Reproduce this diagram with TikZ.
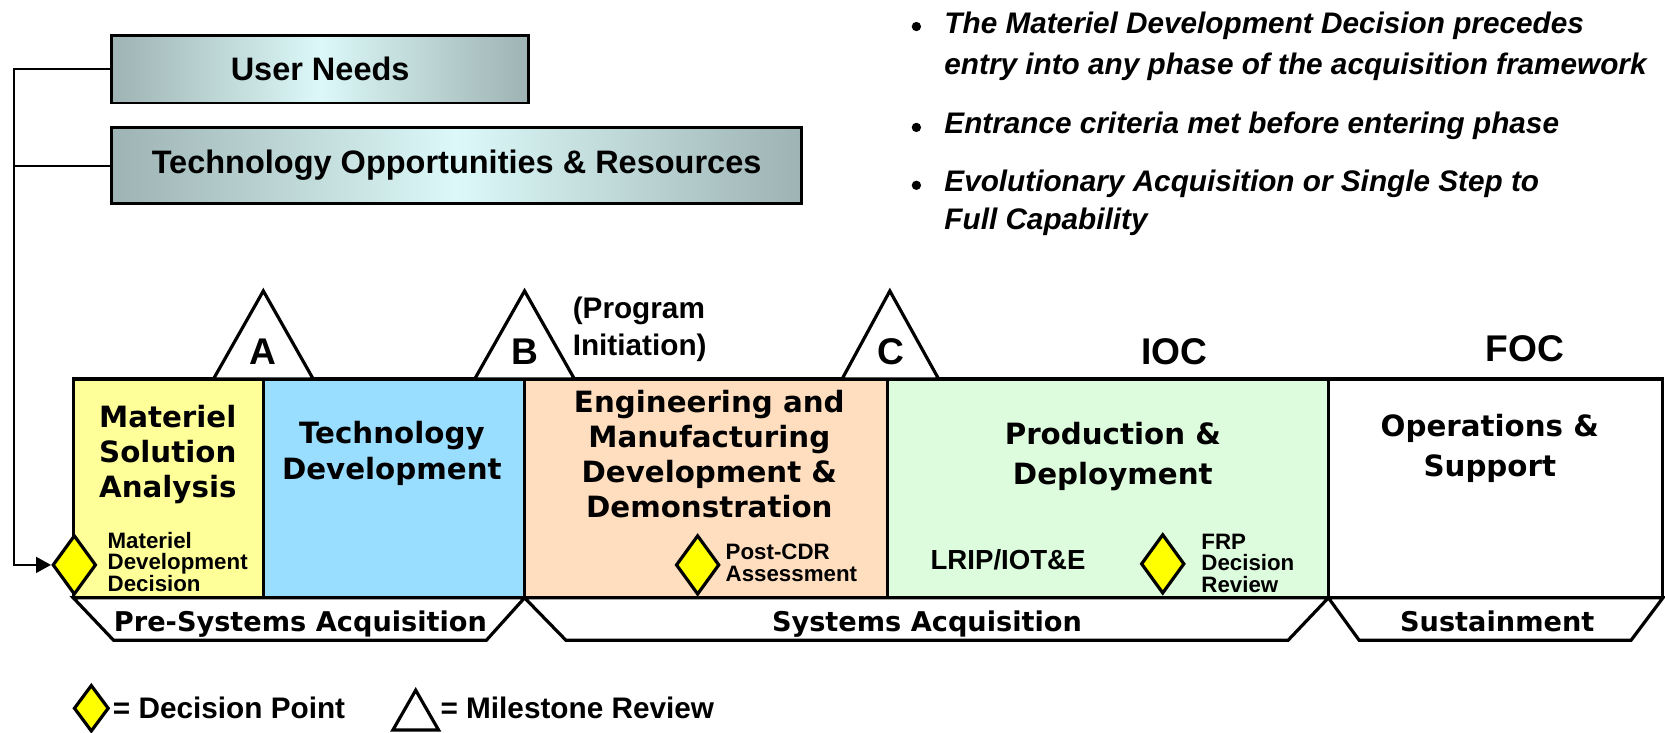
\documentclass[tikz,border=0pt]{standalone}
\usepackage{fontspec}
\setmainfont{Liberation Sans}
\newfontfamily\vfont{DejaVu Sans}
\usetikzlibrary{shapes.geometric,arrows.meta}
\definecolor{msacol}{HTML}{FFFF99}
\definecolor{tdcol}{HTML}{99DDFF}
\definecolor{emdcol}{HTML}{FFDEC0}
\definecolor{pdcol}{HTML}{DDFCDD}
\definecolor{edgecol}{HTML}{9EB3B3}
\definecolor{midcol}{HTML}{DCF8F8}
\definecolor{dyellow}{HTML}{FFFF00}
\begin{document}
\begin{tikzpicture}[x=0.5pt,y=-0.5pt,
 topbox/.style={draw=black, line width=1.4pt, left color=edgecol, right color=edgecol, middle color=midcol, inner sep=0, font=\bfseries\fontsize{15.3}{18}\selectfont},
 phase/.style={draw=black, line width=1.5pt},
 phasetext/.style={inner sep=0, align=center, font=\vfont\bfseries\fontsize{13.8}{16.5}\selectfont},
 phasetextb/.style={inner sep=0, align=center, font=\vfont\bfseries\fontsize{13.8}{19}\selectfont},
 sublabel/.style={inner sep=0, align=left, anchor=west, font=\bfseries\fontsize{10.5}{10.2}\selectfont},
 decision/.style={diamond, draw=black, line width=1.5pt, fill=dyellow, inner sep=0, minimum width=20.5pt, minimum height=28pt},
 milestone/.style={draw=black, line width=1.5pt, fill=white, line join=miter},
 msletter/.style={inner sep=0, font=\bfseries\fontsize{17.5}{20}\selectfont},
 band/.style={draw=black, line width=1.5pt, fill=white, line join=miter},
 bandtext/.style={inner sep=0, anchor=base, font=\vfont\bfseries\fontsize{12.8}{15}\selectfont},
 bullettext/.style={inner sep=0, anchor=base west, font=\bfseries\itshape\fontsize{14}{17}\selectfont},
 bulletdot/.style={circle, fill=black, inner sep=0, minimum size=4.4pt},
 legendtext/.style={inner sep=0, anchor=base west, font=\bfseries\fontsize{14}{17}\selectfont},
 rail/.style={line width=0.8pt}
]
\useasboundingbox (0,0) rectangle (1568,690);

% top boxes
\node[topbox, minimum width=196.5pt, minimum height=32pt] (un) at (301.5,65) {User Needs};
\node[topbox, minimum width=325pt, minimum height=36pt] (tor) at (430,156) {Technology Opportunities \& Resources};

% phase boxes
\draw[phase, fill=msacol] (69,357) rectangle (248,563);
\draw[phase, fill=tdcol] (248,357) rectangle (494,563);
\draw[phase, fill=emdcol] (494,357) rectangle (836,563);
\draw[phase, fill=pdcol] (836,357) rectangle (1251,563);
\draw[phase, fill=white] (1251,357) rectangle (1566,563);

% bands
\draw[band] (69,563) -- (107,603) -- (458,603) -- (494,563) -- cycle;
\draw[band] (494,563) -- (533,603) -- (1213,603) -- (1251,563) -- cycle;
\draw[band] (1251,563) -- (1280,603) -- (1536,603) -- (1566,563) -- cycle;
\node[bandtext] (pre) at (283,595) {Pre-Systems Acquisition};
\node[bandtext] (sys) at (873,595) {Systems Acquisition};
\node[bandtext] (sus) at (1410,595) {Sustainment};

% milestones
\draw[milestone] (201,357) -- (248,274) -- (295,357) -- cycle;
\draw[milestone] (447,357) -- (494,274) -- (541,357) -- cycle;
\draw[milestone] (793,357) -- (838,274) -- (884,357) -- cycle;
\node[msletter] (mA) at (248,331) {A};
\node[msletter] (mB) at (494,331) {B};
\node[msletter] (mC) at (839,331) {C};
\node[inner sep=0, anchor=west, align=left, font=\bfseries\fontsize{14}{17.2}\selectfont] (pi) at (539,310) {(Program\\Initiation)};
\node[msletter] (ioc) at (1106,331) {IOC};
\node[msletter] (foc) at (1436,328) {FOC};

% phase titles
\node[phasetext] (msat) at (158,428) {Materiel\\Solution\\Analysis};
\node[phasetext] (tdt) at (369,427) {Technology\\Development};
\node[phasetext] (emdt) at (668,428) {Engineering and\\Manufacturing\\Development \&\\Demonstration};
\node[phasetextb] (pdt) at (1048,430) {Production \&\\Deployment};
\node[phasetextb] (ost) at (1403,422) {Operations \&\\Support};

% decision points
\node[decision] (mdd) at (70,532) {};
\node[decision] (pcdr) at (657,532) {};
\node[decision] (frp) at (1095,531) {};
\node[sublabel] (mddt) at (101,529) {Materiel\\Development\\Decision};
\node[sublabel] (pcdrt) at (683,530) {Post-CDR\\Assessment};
\node[sublabel] (frpt) at (1131,530.5) {FRP\\Decision\\Review};
\node[inner sep=0, anchor=base west, font=\bfseries\fontsize{13}{15}\selectfont] (lrip) at (876,536.5) {LRIP/IOT\&E};

% rail connectors
\coordinate (railtop) at (13,65);
\draw[rail, -{Triangle[length=7pt,width=7.5pt]}] (un.west) -- (railtop) |- (mdd.west);
\draw[rail] (tor.west) -- (tor.west -| railtop);

% bullets
\node[bulletdot] (b1) at (863,25) {};
\node[bulletdot] (b2) at (863,120) {};
\node[bulletdot] (b3) at (863,174.5) {};
\node[bullettext] (t1) at (889,31.5) {The Materiel Development Decision precedes};
\node[bullettext] (t2) at (889,70.5) {entry into any phase of the acquisition framework};
\node[bullettext] (t3) at (889,125.5) {Entrance criteria met before entering phase};
\node[bullettext] (t4) at (889,180.5) {Evolutionary Acquisition or Single Step to};
\node[bullettext] (t5) at (889,216.5) {Full Capability};

% legend
\node[decision, minimum width=16.5pt, minimum height=22pt] (ldec) at (86,667) {};
\node[legendtext] (ldect) at (106,676.5) {= Decision Point};
\draw[milestone] (370,687.5) -- (391.5,650) -- (413,687.5) -- cycle;
\node[legendtext] (lmst) at (414.5,676.5) {= Milestone Review};
\end{tikzpicture}
\end{document}
